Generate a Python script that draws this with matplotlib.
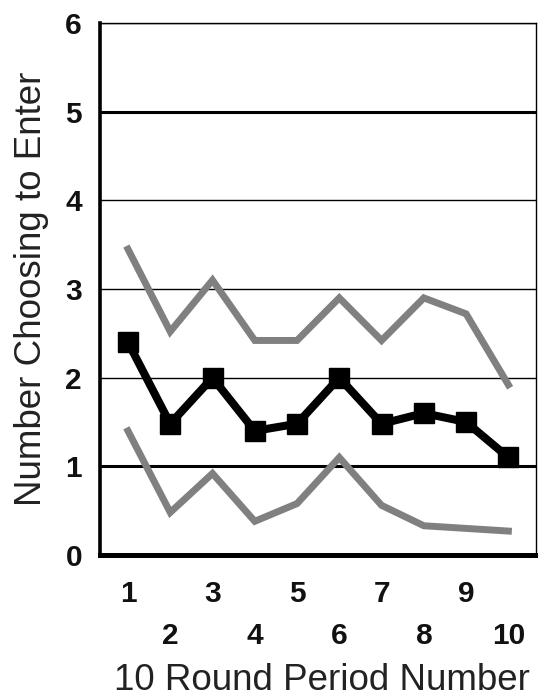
import matplotlib.pyplot as plt

plt.rcParams['font.family'] = ['Liberation Sans', 'DejaVu Sans']

periods = [1, 2, 3, 4, 5, 6, 7, 8, 9, 10]
mean_enter = [2.4, 1.48, 2.0, 1.4, 1.48, 2.0, 1.48, 1.6, 1.5, 1.1]
upper_band = [3.45, 2.52, 3.1, 2.42, 2.42, 2.9, 2.42, 2.9, 2.72, 1.92]
lower_band = [1.4, 0.48, 0.92, 0.38, 0.58, 1.1, 0.56, 0.33, 0.3, 0.27]
y_ticks = [0, 1, 2, 3, 4, 5, 6]

fig = plt.figure(figsize=(5.38, 6.99), dpi=100)
ax = fig.add_axes([0.186, 0.206, 0.81, 0.761])

ax.plot(periods, upper_band, color="#808080", linewidth=5, solid_joinstyle="miter")
ax.plot(periods, lower_band, color="#808080", linewidth=5, solid_joinstyle="miter")
ax.plot(periods, mean_enter, color="black", linewidth=5.8, marker="s",
        markersize=15, markerfacecolor="black", markeredgecolor="black")

ax.set_xlim(0.34, 10.65)
ax.set_ylim(0, 6)
ax.set_yticks(y_ticks)
ax.set_yticklabels([str(v) for v in y_ticks], fontsize=21.5, fontweight="bold")
ax.set_xticks(periods)
ax.set_xticklabels([str(p) for p in periods], fontsize=21.5, fontweight="bold")

# staggered x labels: even periods on a second row
for p, tick in zip(periods, ax.xaxis.get_major_ticks()):
    tick.set_pad(18 if p % 2 == 1 else 48)
ax.tick_params(axis="x", length=0, colors="#111111")
ax.tick_params(axis="y", length=0, pad=13, colors="#111111")

ax.set_axisbelow(True)
ax.grid(axis="y", color="black", linewidth=1)
for v, gl in zip(y_ticks, ax.get_ygridlines()):
    if v in (1, 5):
        gl.set_linewidth(2.2)

ax.spines["left"].set_linewidth(2.6)
ax.spines["bottom"].set_linewidth(3.6)
ax.spines["top"].set_linewidth(1)
ax.spines["right"].set_linewidth(1)

ax.set_ylabel("Number Choosing to Enter", fontsize=26.5, color="#222222", va="center")
ax.yaxis.set_label_coords(-0.158, 0.5)
ax.set_xlabel("10 Round Period Number", fontsize=26.5, color="#222222", va="center")
ax.xaxis.set_label_coords(0.51, -0.235)

plt.savefig("out.png", dpi=100)
